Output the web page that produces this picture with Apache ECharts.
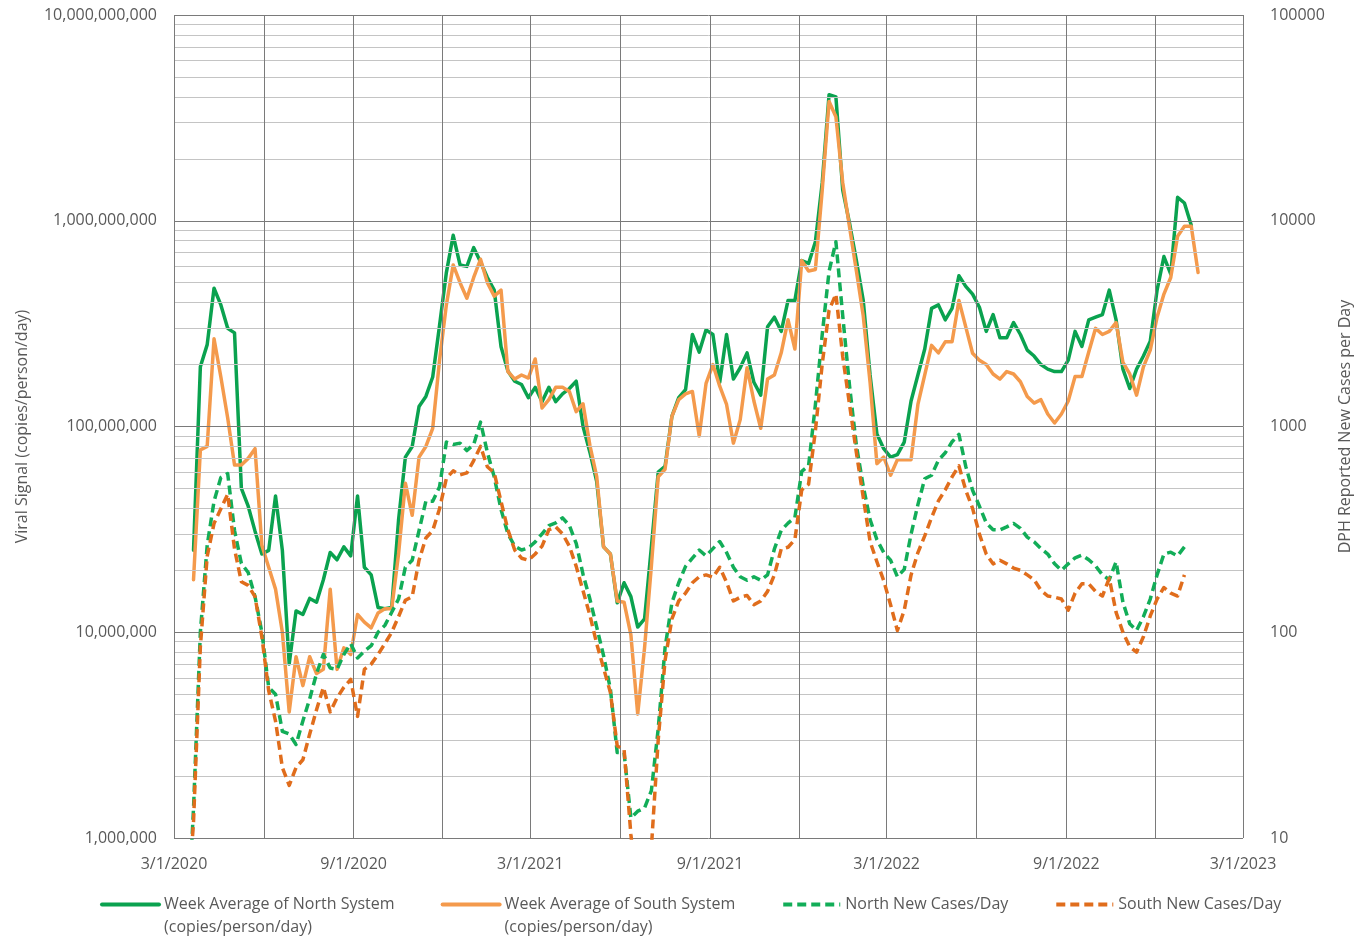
<!DOCTYPE html>
<html>
<head>
<meta charset="utf-8">
<script src="https://cdn.jsdelivr.net/npm/echarts@6/dist/echarts.min.js"></script>
<style>
html,body{margin:0;padding:0;background:#fff;}
#chart{width:1359px;height:937px;}
</style>
</head>
<body>
<div id="chart"></div>
<script>
// ---- categories: weekly sample dates (first sample week of Mar 14, 2020) ----
const firstWeek = [2020, 3, 14];
const weekCount = 149;
const weekDates = [];
for (let i = 0; i < weekCount; i++) {
  weekDates.push(new Date(firstWeek[0], firstWeek[1] - 1, firstWeek[2] + 7 * i).getTime());
}

// ---- series values (index 0 = week of 3/14/2020, then weekly) ----
const northSystem = [null,
  2.5e7, 1.95e8, 2.5e8, 4.7e8, 3.9e8, 3.0e8, 2.85e8, 5.0e7, 4.1e7, 3.1e7,
  2.4e7, 2.5e7, 4.6e7, 2.5e7, 7.0e6, 1.27e7, 1.22e7, 1.46e7, 1.4e7, 1.8e7,
  2.44e7, 2.25e7, 2.6e7, 2.35e7, 4.6e7, 2.07e7, 1.9e7, 1.32e7, 1.3e7, 1.32e7,
  3.5e7, 7.1e7, 8.0e7, 1.25e8, 1.4e8, 1.74e8, 3.1e8, 5.6e8, 8.5e8, 6.1e8,
  6.0e8, 7.4e8, 6.3e8, 5.3e8, 4.6e8, 2.44e8, 1.86e8, 1.66e8, 1.6e8, 1.38e8,
  1.55e8, 1.32e8, 1.55e8, 1.32e8, 1.44e8, 1.53e8, 1.66e8, 1.0e8, 7.5e7, 5.4e7,
  2.6e7, 2.4e7, 1.39e7, 1.74e7, 1.49e7, 1.06e7, 1.16e7, 2.6e7, 6.0e7, 6.4e7,
  1.12e8, 1.38e8, 1.51e8, 2.8e8, 2.3e8, 2.95e8, 2.8e8, 1.64e8, 2.8e8, 1.7e8,
  1.93e8, 2.28e8, 1.64e8, 1.42e8, 3.05e8, 3.4e8, 2.9e8, 4.1e8, 4.1e8, 6.4e8,
  6.2e8, 7.9e8, 1.53e9, 4.1e9, 4.0e9, 1.41e9, 9.7e8, 6.4e8, 4.1e8, 1.78e8,
  9.2e7, 7.8e7, 7.1e7, 7.3e7, 8.4e7, 1.33e8, 1.78e8, 2.38e8, 3.75e8, 3.9e8,
  3.3e8, 3.75e8, 5.4e8, 4.8e8, 4.4e8, 3.8e8, 2.9e8, 3.5e8, 2.7e8, 2.7e8,
  3.2e8, 2.8e8, 2.35e8, 2.2e8, 2.0e8, 1.9e8, 1.85e8, 1.85e8, 2.1e8, 2.9e8,
  2.45e8, 3.3e8, 3.4e8, 3.5e8, 4.6e8, 3.3e8, 1.9e8, 1.53e8, 1.9e8, 2.2e8,
  2.6e8, 4.6e8, 6.7e8, 5.5e8, 1.3e9, 1.22e9, 9.5e8, null];

const southSystem = [null,
  1.8e7, 7.7e7, 8.0e7, 2.67e8, 1.74e8, 1.1e8, 6.5e7, 6.5e7, 7.0e7, 7.8e7,
  2.65e7, 2.07e7, 1.62e7, 1.0e7, 4.1e6, 7.6e6, 5.5e6, 7.6e6, 6.3e6, 6.6e6,
  1.62e7, 6.6e6, 8.4e6, 7.8e6, 1.22e7, 1.12e7, 1.05e7, 1.24e7, 1.3e7, 1.3e7,
  2.4e7, 5.3e7, 3.7e7, 7.1e7, 8.0e7, 9.8e7, 2.1e8, 3.9e8, 6.1e8, 5.0e8,
  4.2e8, 5.3e8, 6.5e8, 5.0e8, 4.3e8, 4.6e8, 1.85e8, 1.7e8, 1.78e8, 1.72e8,
  2.13e8, 1.23e8, 1.35e8, 1.55e8, 1.55e8, 1.48e8, 1.18e8, 1.29e8, 8.1e7, 5.7e7,
  2.6e7, 2.4e7, 1.42e7, 1.4e7, 9.7e6, 4.0e6, 8.4e6, 2.1e7, 5.7e7, 6.2e7,
  1.12e8, 1.35e8, 1.44e8, 1.48e8, 9.0e7, 1.62e8, 2.0e8, 1.57e8, 1.28e8, 8.3e7,
  1.08e8, 1.93e8, 1.33e8, 9.8e7, 1.7e8, 1.78e8, 2.28e8, 3.3e8, 2.38e8, 6.4e8,
  5.7e8, 5.8e8, 1.41e9, 3.8e9, 3.2e9, 1.53e9, 9.3e8, 5.7e8, 3.45e8, 1.64e8,
  6.6e7, 7.1e7, 5.8e7, 6.9e7, 6.9e7, 6.9e7, 1.28e8, 1.78e8, 2.48e8, 2.28e8,
  2.58e8, 2.58e8, 4.1e8, 3.05e8, 2.27e8, 2.1e8, 2.0e8, 1.8e8, 1.7e8, 1.85e8,
  1.8e8, 1.65e8, 1.4e8, 1.3e8, 1.35e8, 1.15e8, 1.04e8, 1.15e8, 1.33e8, 1.75e8,
  1.75e8, 2.3e8, 3.0e8, 2.8e8, 2.9e8, 3.2e8, 2.05e8, 1.8e8, 1.42e8, 1.95e8,
  2.35e8, 3.4e8, 4.4e8, 5.3e8, 8.4e8, 9.4e8, 9.4e8, 5.6e8];

const northCases = [3,
  14, 100, 265, 433, 565, 590, 312, 216, 195, 149,
  100, 54, 50, 33, 32, 28.5, 37, 47.5, 63, 78,
  67, 66, 78, 88, 75, 81, 86, 100, 108, 125,
  145, 207, 224, 312, 433, 433, 509, 840, 818, 830,
  764, 818, 1050, 748, 569, 395, 301, 262, 251, 257,
  275, 301, 330, 340, 360, 330, 270, 191, 145, 106,
  77, 53, 26, 26, 12.5, 13.5, 14, 17, 34, 84,
  139, 174, 209, 229, 251, 235, 255, 276, 244, 207,
  186, 179, 186, 179, 190, 254, 313, 339, 361, 605,
  644, 1276, 2805, 5680, 7900, 3450, 1570, 809, 513, 353,
  282, 244, 224, 186, 202, 300, 417, 557, 580, 686,
  745, 843, 916, 640, 490, 410, 340, 315, 314, 325,
  338, 320, 290, 275, 255, 240, 215, 200, 215, 230,
  237, 225, 210, 190, 180, 220, 140, 110, 102, 119,
  145, 190, 240, 245, 235, 260, null, null];

const southCases = [4,
  12, 85, 234, 338, 398, 469, 254, 176, 169, 149,
  95, 52, 37, 22, 18, 22, 24, 32, 42, 54,
  41, 48, 54, 59, 39, 66, 70, 78, 88, 100,
  119, 143, 149, 224, 287, 312, 398, 560, 609, 582,
  595, 683, 800, 637, 595, 432, 315, 251, 229, 224,
  240, 262, 315, 325, 301, 262, 209, 159, 121, 88,
  67, 51, 28, 27, 10.4, 5, 6, 9, 30, 73,
  116, 142, 155, 174, 186, 190, 185, 207, 175, 142,
  148, 151, 136, 142, 158, 190, 254, 259, 282, 492,
  524, 955, 2015, 3670, 4400, 2190, 1276, 745, 453, 276,
  220, 178, 136, 102, 128, 190, 244, 294, 361, 435,
  492, 569, 644, 490, 400, 300, 240, 215, 224, 215,
  205, 200, 190, 180, 160, 150, 148, 145, 128, 155,
  172, 172, 158, 150, 183, 125, 100, 85, 80, 95,
  120, 145, 165, 155, 150, 190, null, null];

// ---- axis ticks / labels ----
const xLabelDates = ['2020-03-01', '2020-09-01', '2021-03-01', '2021-09-01', '2022-03-01', '2022-09-01', '2023-03-01'];
const xGridDates = ['2020-03-01', '2020-06-01', '2020-09-01', '2020-12-01', '2021-03-01', '2021-06-01', '2021-09-01',
  '2021-12-01', '2022-03-01', '2022-06-01', '2022-09-01', '2022-12-01', '2023-03-01'];
const leftDecades = [1e6, 1e7, 1e8, 1e9, 1e10];
const minorSteps = [2, 3, 4, 5, 6, 7, 8, 9];

const seriesNames = [
  'Week Average of North System\n(copies/person/day)',
  'Week Average of South System\n(copies/person/day)',
  'North New Cases/Day',
  'South New Cases/Day'
];

function ts(s) { const p = s.split('-').map(Number); return new Date(p[0], p[1] - 1, p[2]).getTime(); }
function pairs(vals) { return vals.map((v, i) => [weekDates[i], v]); }
function commas(v) { return String(Math.round(v)).replace(/\B(?=(\d{3})+(?!\d))/g, ','); }

const FONT = "'Open Sans', sans-serif";
const TXT = '#595959';

const minorLines = [];
for (let d = 0; d < leftDecades.length - 1; d++) {
  minorSteps.forEach(m => minorLines.push({ yAxis: leftDecades[d] * m }));
}
const vLines = xGridDates.map(s => ({ xAxis: ts(s) }));
const hMajor = leftDecades.map(v => ({ yAxis: v }));

const chart = echarts.init(document.getElementById('chart'), null, { renderer: 'canvas' });
chart.setOption({
  animation: false,
  backgroundColor: '#ffffff',
  textStyle: { fontFamily: FONT },
  grid: { left: 174, right: 116, top: 15, bottom: 99, containLabel: false, outerBoundsMode: 'none' },
  xAxis: {
    type: 'value',
    min: ts('2020-03-01'),
    max: ts('2023-03-01'),
    axisLine: { show: false },
    axisTick: { show: false },
    splitLine: { show: false },
    axisLabel: {
      customValues: xLabelDates.map(ts),
      color: TXT, fontSize: 16, fontFamily: FONT, margin: 18,
      formatter: function (v) { const d = new Date(v); return (d.getMonth() + 1) + '/' + d.getDate() + '/' + d.getFullYear(); }
    }
  },
  yAxis: [{
    type: 'log', logBase: 10, min: 1e6, max: 1e10,
    name: 'Viral Signal (copies/person/day)', nameLocation: 'middle', nameRotate: 90, nameGap: 144,
    nameTextStyle: { color: TXT, fontSize: 16, fontFamily: FONT },
    axisLine: { show: false }, axisTick: { show: false },
    splitLine: { show: false },
    axisLabel: { color: TXT, fontSize: 16, fontFamily: FONT, margin: 17, formatter: commas }
  }, {
    type: 'log', logBase: 10, min: 10, max: 100000,
    name: 'DPH Reported New Cases per Day', nameLocation: 'middle', nameRotate: 90, nameGap: 94,
    nameTextStyle: { color: TXT, fontSize: 16, fontFamily: FONT },
    axisLine: { show: false }, axisTick: { show: false },
    splitLine: { show: false },
    axisLabel: { color: TXT, fontSize: 16, fontFamily: FONT, margin: 27, formatter: v => String(Math.round(v)) }
  }],
  legend: {
    left: 100, top: 870, padding: 0, itemGap: 46, itemWidth: 57, itemHeight: 14,
    itemStyle: { opacity: 0 },
    lineStyle: { width: 4 },
    textStyle: { color: TXT, fontSize: 16, fontFamily: FONT, lineHeight: 23 },
    formatter: function (name) { return name.indexOf('\n') >= 0 ? ' \n' + name : name; },
    data: seriesNames
  },
  series: [
    {
      name: 'minor-grid', type: 'line', data: [], z: 0, silent: true,
      markLine: { silent: true, symbol: ['none', 'none'], label: { show: false }, animation: false,
        lineStyle: { color: '#c4c4c4', width: 1, type: 'solid' }, data: minorLines }
    },
    {
      name: 'major-grid', type: 'line', data: [], z: 1, silent: true,
      markLine: { silent: true, symbol: ['none', 'none'], label: { show: false }, animation: false,
        lineStyle: { color: '#7a7a7a', width: 1, type: 'solid' }, data: hMajor.concat(vLines) }
    },
    {
      name: seriesNames[0], type: 'line', yAxisIndex: 0, data: pairs(northSystem),
      symbol: 'none', showSymbol: false, z: 3, connectNulls: false,
      color: '#0aa24f', lineStyle: { color: '#0aa24f', width: 3.5, join: 'round', cap: 'round' }
    },
    {
      name: seriesNames[1], type: 'line', yAxisIndex: 0, data: pairs(southSystem),
      symbol: 'none', showSymbol: false, z: 4, connectNulls: false,
      color: '#f49a4c', lineStyle: { color: '#f49a4c', width: 3.5, join: 'round', cap: 'round' }
    },
    {
      name: seriesNames[2], type: 'line', yAxisIndex: 1, data: pairs(northCases),
      symbol: 'none', showSymbol: false, z: 5, connectNulls: false,
      color: '#12ad58', lineStyle: { color: '#12ad58', width: 3.5, type: [9, 5], join: 'round' }
    },
    {
      name: seriesNames[3], type: 'line', yAxisIndex: 1, data: pairs(southCases),
      symbol: 'none', showSymbol: false, z: 6, connectNulls: false,
      color: '#e06d1c', lineStyle: { color: '#e06d1c', width: 3.5, type: [9, 5], join: 'round' }
    }
  ]
});
</script>
</body>
</html>
